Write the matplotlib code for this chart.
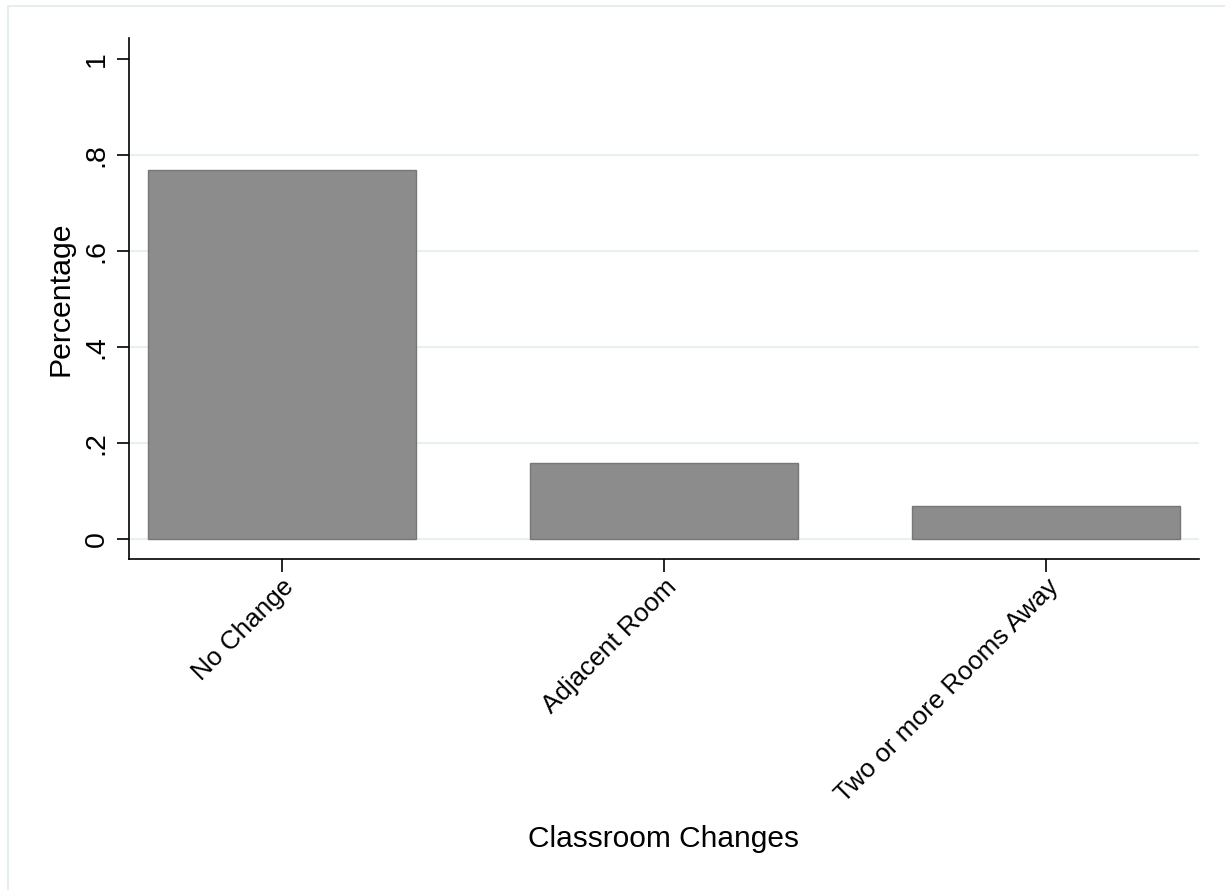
import matplotlib
matplotlib.use("Agg")
import matplotlib.pyplot as plt
from matplotlib.patches import Rectangle

categories = ["No Change", "Adjacent Room", "Two or more Rooms Away"]
shares = [0.768, 0.159, 0.069]
ytick_vals = [0, 0.2, 0.4, 0.6, 0.8, 1]
ytick_labels = ["0", ".2", ".4", ".6", ".8", "1"]

plt.rcParams['font.family'] = ['Liberation Sans', 'DejaVu Sans']

fig = plt.figure(figsize=(12.25, 8.9), dpi=100)
ax = fig.add_axes([129 / 1225, 1 - 559 / 890, 1070 / 1225, 521 / 890])

# light outer frame like stata
fig.patches.append(Rectangle((8 / 1225, -0.1), 1.2, 0.1 + (890 - 6) / 890,
                             transform=fig.transFigure, fill=False,
                             edgecolor="#e6edef", linewidth=1.5))

x = range(len(categories))
ax.bar(x, shares, width=0.7, color="#8c8c8c", edgecolor="#777777",
       linewidth=1, zorder=3)

ax.set_xlim(-0.4, 2.4)
ax.set_ylim(-0.042, 1.044)

ax.set_yticks(ytick_vals)
ax.set_yticklabels(ytick_labels, rotation=90, va="center", fontsize=20.5)
ax.set_xticks(list(x))
ax.set_xticklabels(categories, rotation=45, ha="right",
                   rotation_mode="anchor", fontsize=18.8)

ax.tick_params(axis="y", length=9, width=1.2, pad=5)
ax.tick_params(axis="x", length=9.5, width=1.2, pad=2)

ax.grid(axis="y", color="#e9f0f2", linewidth=1.6, zorder=0)
ax.get_ygridlines()[-1].set_visible(False)
ax.set_axisbelow(True)

for side in ("top", "right"):
    ax.spines[side].set_visible(False)
for side in ("left", "bottom"):
    ax.spines[side].set_linewidth(1.2)

ax.set_xlabel("Classroom Changes", fontsize=21.5)
ax.set_ylabel("Percentage", fontsize=21.8)
ax.xaxis.set_label_coords(0.5, -0.51)
ax.yaxis.set_label_coords(-0.051, 0.5)

fig.savefig("out.png", dpi=100, facecolor="white")
